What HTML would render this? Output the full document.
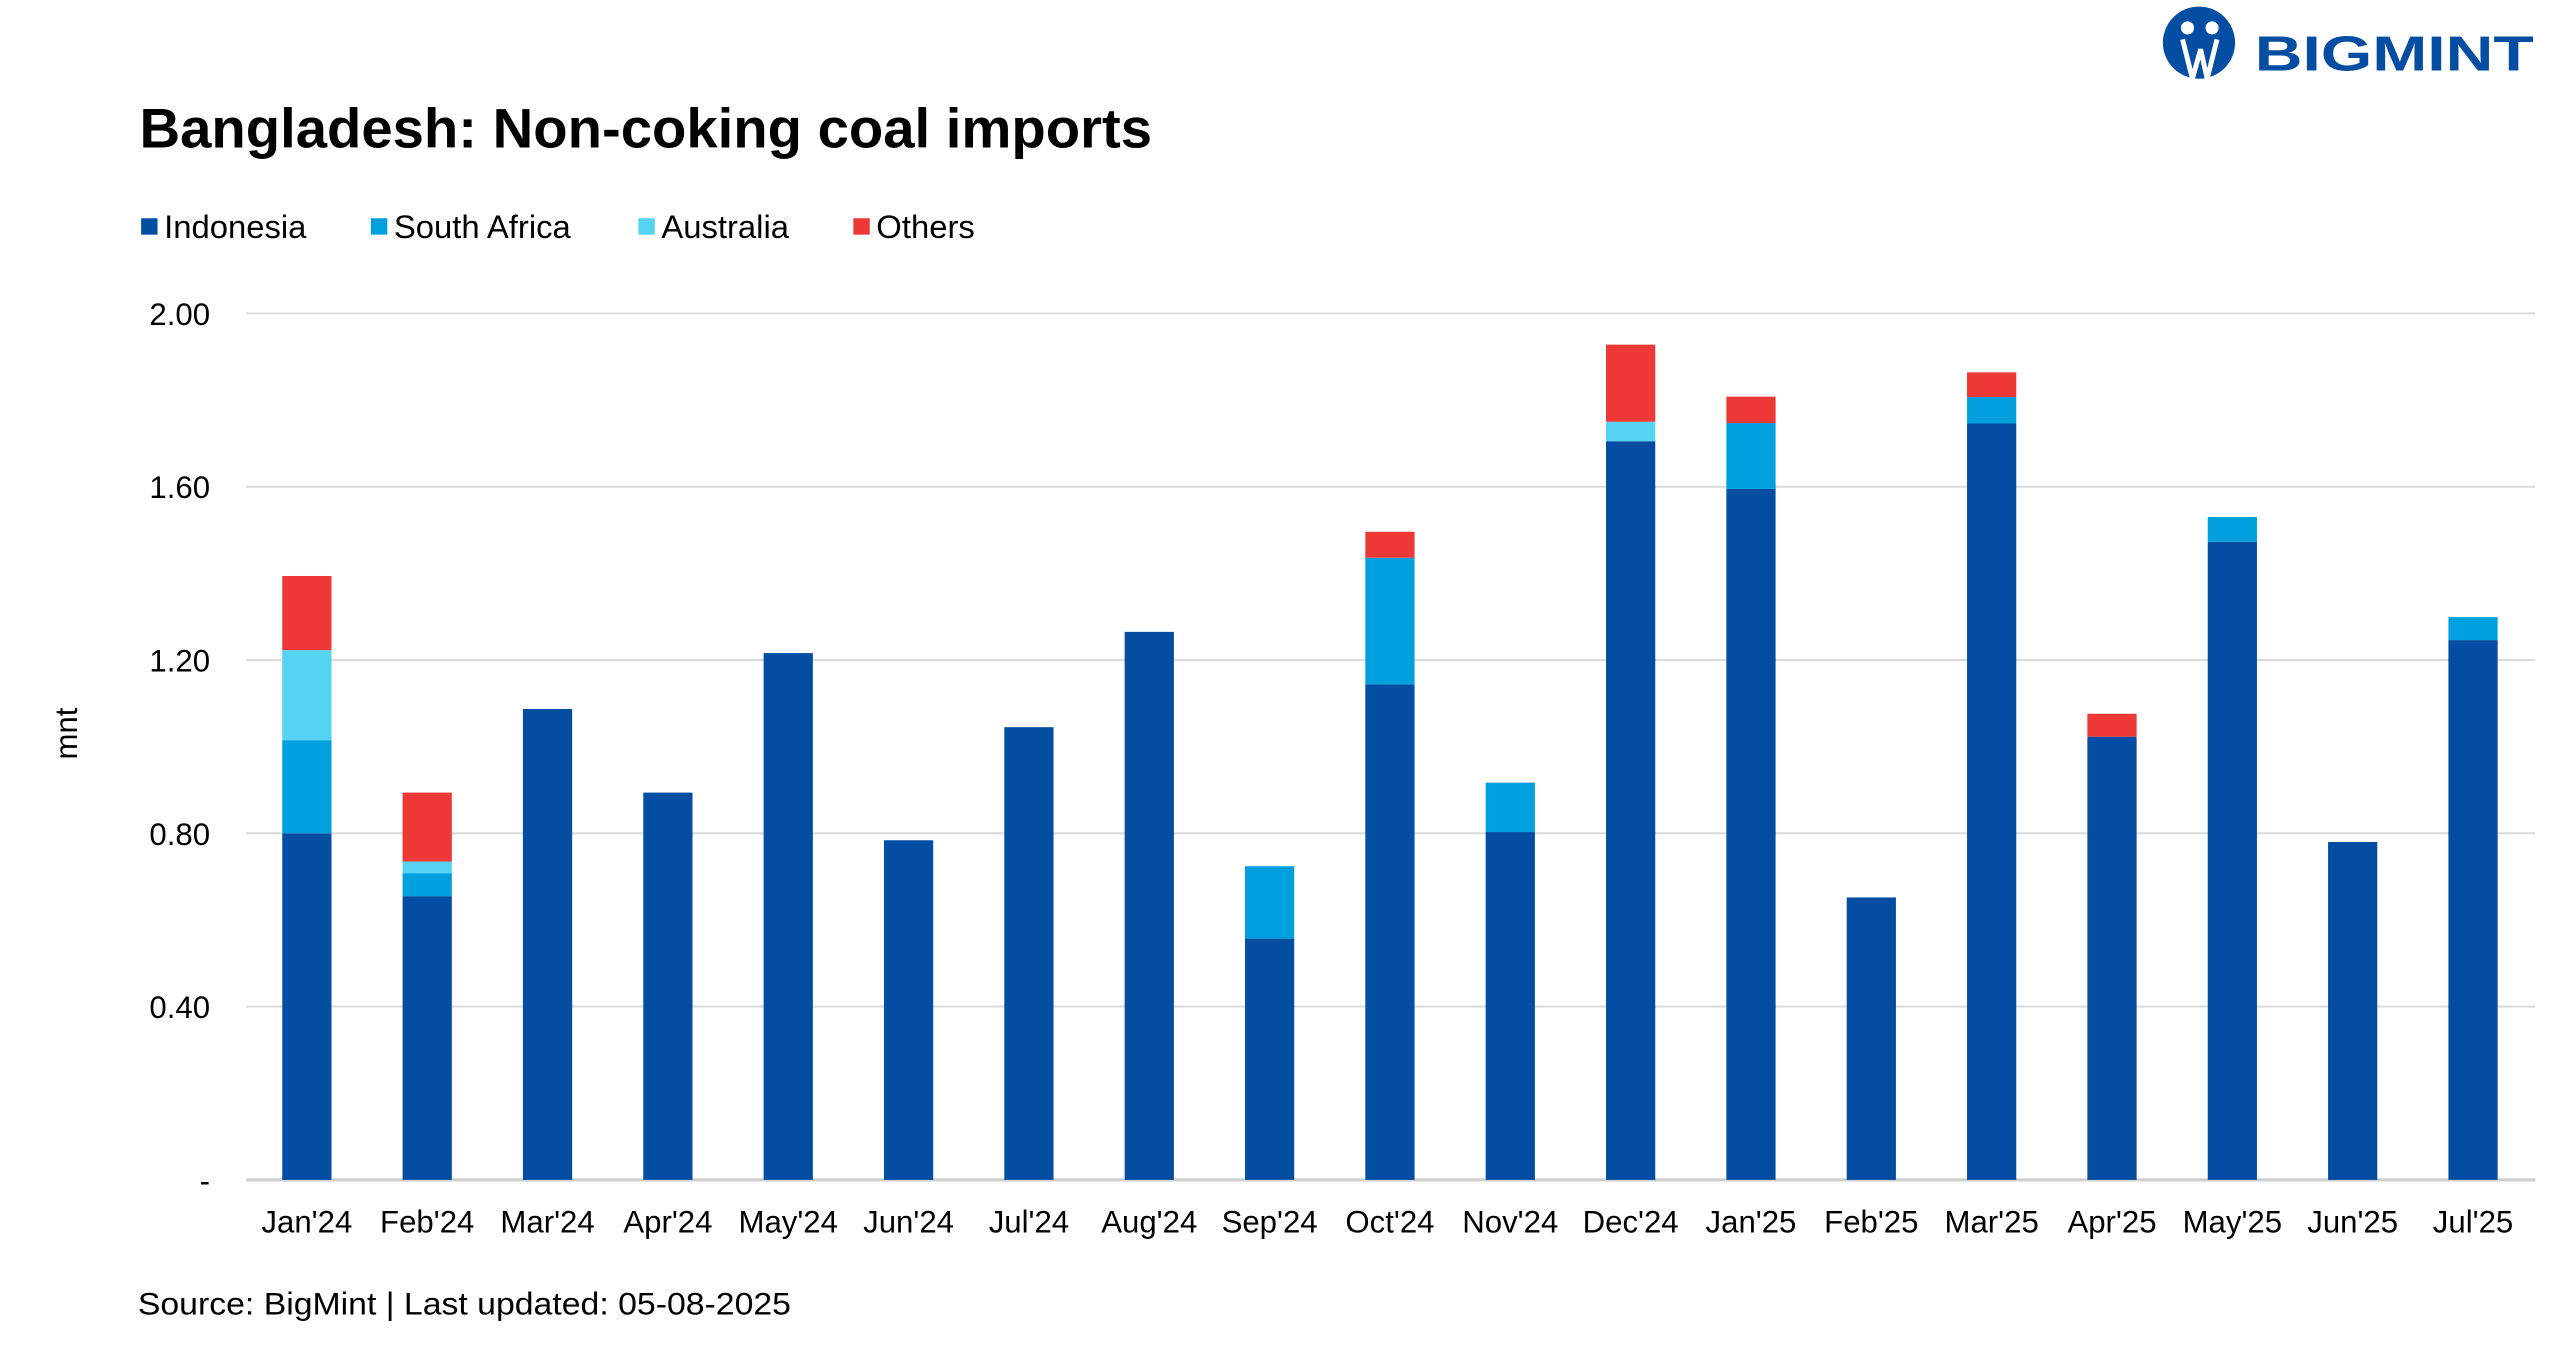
<!DOCTYPE html>
<html><head><meta charset="utf-8"><style>
html,body{margin:0;padding:0;background:#fff;}
svg{display:block;font-family:"Liberation Sans",sans-serif;}
</style></head><body>
<svg id="chart" width="2560" height="1345" viewBox="0 0 1560 819.6" preserveAspectRatio="none" xmlns="http://www.w3.org/2000/svg">
<rect width="1560" height="819.6" fill="#fff"/>
<g>
  <ellipse cx="1340" cy="26" rx="22" ry="22" fill="#034EA2"/>
  <circle cx="1333" cy="17" r="4" fill="#fff"/><circle cx="1348" cy="17" r="4" fill="#fff"/>
  <path d="M1330 24 L1336 48 L1341 30 L1345 48 L1351 24" stroke="#fff" stroke-width="3" fill="none"/>
  <text x="1374" y="43" font-size="30" font-weight="bold" fill="#034EA2" textLength="170" lengthAdjust="spacingAndGlyphs">BIGMINT</text>
</g>
<text x="85" y="90" font-size="34" font-weight="bold" fill="#000" textLength="617" lengthAdjust="spacingAndGlyphs">Bangladesh: Non-coking coal imports</text>
<g id="legend"></g>
<g id="grid"></g>
<g id="bars"></g>
<g id="xlabels"></g>
<text transform="translate(47,447) rotate(-90)" text-anchor="middle" font-size="19" fill="#000">mnt</text>
<text x="84" y="801" font-size="19" fill="#000" textLength="398" lengthAdjust="spacingAndGlyphs">Source: BigMint | Last updated: 05-08-2025</text>
</svg>
<script>
const categories = ["Jan'24","Feb'24","Mar'24","Apr'24","May'24","Jun'24","Jul'24","Aug'24","Sep'24","Oct'24","Nov'24","Dec'24","Jan'25","Feb'25","Mar'25","Apr'25","May'25","Jun'25","Jul'25"];
const indonesia   = [0.80,0.655,1.087,0.894,1.216,0.784,1.045,1.265,0.557,1.144,0.803,1.705,1.595,0.652,1.746,1.023,1.473,0.78,1.246];
const southAfrica = [0.215,0.053,0,0,0,0,0,0,0.167,0.292,0.114,0,0.152,0,0.061,0,0.057,0,0.053];
const australia   = [0.208,0.027,0,0,0,0,0,0,0,0,0,0.045,0,0,0,0,0,0,0];
const others      = [0.171,0.159,0,0,0,0,0,0,0,0.06,0,0.178,0.061,0,0.057,0.053,0,0,0];
const yTicks = [0,0.4,0.8,1.2,1.6,2.0];
const yTickLabels = ["-","0.40","0.80","1.20","1.60","2.00"];
const seriesNames = ["Indonesia","South Africa","Australia","Others"];
const colors = ["#034EA2","#00A0DF","#55D3F2","#EE3835"];

const NS="http://www.w3.org/2000/svg";
const y0=719, y1=191, yMax=2.0;
const yScale=v=>y0-(v/yMax)*(y0-y1);
const x0=187, x1=1507;
const xScale=i=>x0+i*(x1-x0)/(categories.length-1);
const bw=30;
function mk(tag,attrs,parent){const e=document.createElementNS(NS,tag);for(const k in attrs)e.setAttribute(k,attrs[k]);parent.appendChild(e);return e;}

const grid=document.getElementById('grid');
yTicks.forEach((t,i)=>{
  const g=mk('line',{x1:150,x2:1545,y1:yScale(t),y2:yScale(t),stroke:t===0?'#d0d0d0':'#dcdcdc','stroke-width':t===0?2:1.3},grid);
  
  
  const tx=mk('text',{x:128,y:yScale(t)+7,'text-anchor':'end','font-size':19,fill:'#000'},grid);
  
  
  tx.textContent=yTickLabels[i];
});

const bars=document.getElementById('bars');
const series=[indonesia,southAfrica,australia,others];
categories.forEach((c,i)=>{
  let base=0;
  series.forEach((s,k)=>{
    const v=s[i]; if(!v) return;
    const r=mk('rect',{x:xScale(i)-bw/2,y:yScale(base+v),width:bw,height:yScale(base)-yScale(base+v),fill:colors[k]},bars);
    
    
    base+=v;
  });
  const t=mk('text',{x:xScale(i),y:751,'text-anchor':'middle','font-size':19,fill:'#000'},document.getElementById('xlabels'));
  
  
  t.textContent=c;
});

const leg=document.getElementById('legend');
const legX=[86,226,389,520];
seriesNames.forEach((n,k)=>{
  const g=mk('g',{},leg);
  
  
  mk('rect',{x:legX[k],y:133,width:10,height:10,fill:colors[k]},g);
  const t=mk('text',{x:legX[k]+14,y:145,'font-size':20,fill:'#000'},g);
  t.textContent=n;
});
</script>
</body></html>
